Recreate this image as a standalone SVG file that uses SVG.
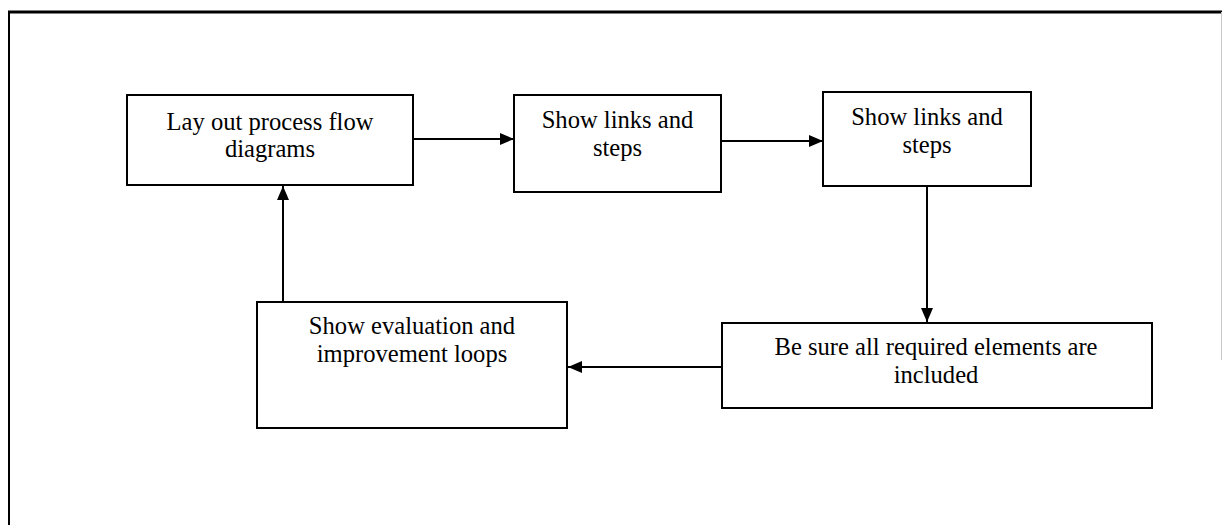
<svg xmlns="http://www.w3.org/2000/svg" width="1223" height="525" viewBox="0 0 1223 525">
  <style>
    .box { fill: #fff; stroke: #000; stroke-width: 2; }
    .lbl { font-family: "Liberation Serif", "Times New Roman", serif; font-size: 24.6px; fill: #000; text-anchor: middle; }
    .conn { stroke: #000; stroke-width: 2; fill: none; marker-end: url(#arrow); }
  </style>
  <defs>
    <marker id="arrow" markerUnits="userSpaceOnUse" markerWidth="16" markerHeight="14" refX="14" refY="6" orient="auto">
      <path d="M0,0 L14,6 L0,12 Z" fill="#000"/>
    </marker>
  </defs>
  <rect x="0" y="0" width="1223" height="525" fill="#fff"/>
  <g id="frame">
    <line x1="8" y1="12" x2="1222" y2="12" stroke="#000" stroke-width="3"/>
    <line x1="9" y1="11" x2="9" y2="525" stroke="#000" stroke-width="2"/>
    <line x1="1221.5" y1="12" x2="1221.5" y2="360" stroke="#c8c8c8" stroke-width="1"/>
  </g>
  <g id="connectors">
    <line class="conn" x1="413" y1="139" x2="514" y2="139"/>
    <line class="conn" x1="721" y1="141" x2="823" y2="141"/>
    <line class="conn" x1="927" y1="186" x2="927" y2="322"/>
    <line class="conn" x1="722" y1="367" x2="568" y2="367"/>
    <line class="conn" x1="283" y1="302" x2="283" y2="186"/>
  </g>
  <g id="node1">
    <rect class="box" x="127" y="95" width="286" height="90"/>
    <text class="lbl" x="270" y="130">Lay out process flow</text>
    <text class="lbl" x="270" y="157">diagrams</text>
  </g>
  <g id="node2">
    <rect class="box" x="514" y="95" width="207" height="97"/>
    <text class="lbl" x="617.5" y="128">Show links and</text>
    <text class="lbl" x="617.5" y="156">steps</text>
  </g>
  <g id="node3">
    <rect class="box" x="823" y="92" width="208" height="94"/>
    <text class="lbl" x="927" y="125">Show links and</text>
    <text class="lbl" x="927" y="153">steps</text>
  </g>
  <g id="node4">
    <rect class="box" x="722" y="323" width="430" height="85"/>
    <text class="lbl" x="936" y="355">Be sure all required elements are</text>
    <text class="lbl" x="936" y="383">included</text>
  </g>
  <g id="node5">
    <rect class="box" x="257" y="302" width="310" height="126"/>
    <text class="lbl" x="412" y="334">Show evaluation and</text>
    <text class="lbl" x="412" y="362">improvement loops</text>
  </g>
</svg>
